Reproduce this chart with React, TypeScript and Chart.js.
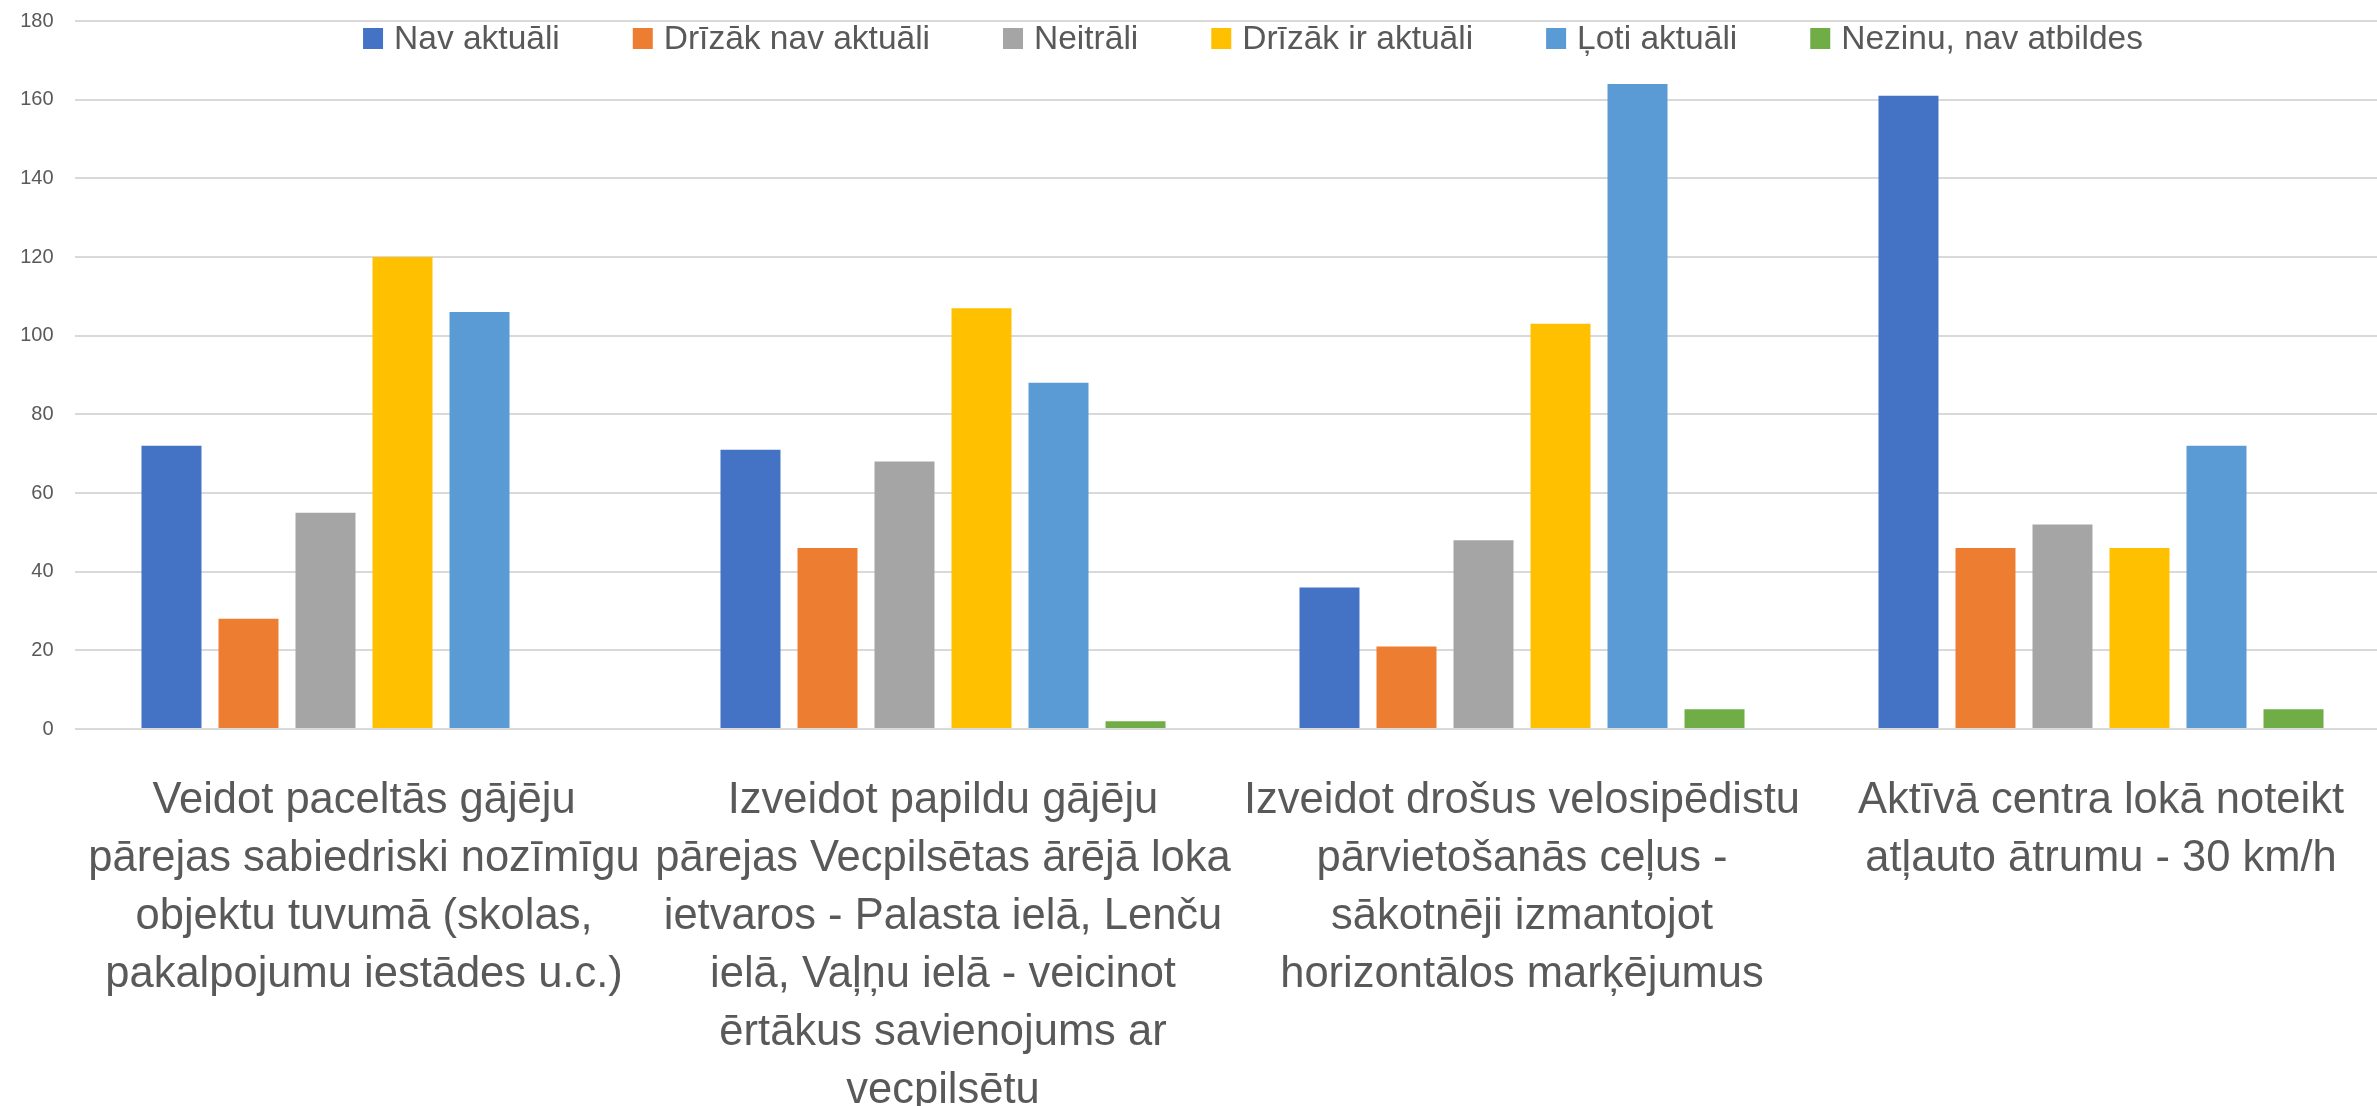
import React, { useEffect, useRef } from "react";
import { Chart, registerables } from "chart.js";

Chart.register(...registerables);

// ---- Data ----
const categories: string[][] = [
  ["Veidot paceltās gājēju", "pārejas sabiedriski nozīmīgu", "objektu tuvumā (skolas,", "pakalpojumu iestādes u.c.)"],
  ["Izveidot papildu gājēju", "pārejas Vecpilsētas ārējā loka", "ietvaros - Palasta ielā, Lenču", "ielā, Vaļņu ielā - veicinot", "ērtākus savienojums ar", "vecpilsētu"],
  ["Izveidot drošus velosipēdistu", "pārvietošanās ceļus -", "sākotnēji izmantojot", "horizontālos marķējumus"],
  ["Aktīvā centra lokā noteikt", "atļauto ātrumu - 30 km/h"],
];

const seriesNames = [
  "Nav aktuāli",
  "Drīzāk nav aktuāli",
  "Neitrāli",
  "Drīzāk ir aktuāli",
  "Ļoti aktuāli",
  "Nezinu, nav atbildes",
];

const navAktuali = [72, 71, 36, 161];
const drizakNavAktuali = [28, 46, 21, 46];
const neitrali = [55, 68, 48, 52];
const drizakIrAktuali = [120, 107, 103, 46];
const lotiAktuali = [106, 88, 164, 72];
const nezinu = [0, 2, 5, 5];

const seriesValues = [navAktuali, drizakNavAktuali, neitrali, drizakIrAktuali, lotiAktuali, nezinu];

const yAxisMin = 0;
const yAxisMax = 180;
const yAxisStep = 20;

// ---- Styles ----
const seriesColors = ["#4472C4", "#ED7D31", "#A5A5A5", "#FFC000", "#5B9BD5", "#70AD47"];
const FONT = "'Liberation Sans', Arial, sans-serif";
const TEXT_COLOR = "#595959";
const GRID_COLOR = "#D9D9D9";

const CANVAS_W = 2420;
const CANVAS_H = 1106;

const legendPlugin = {
  id: "customLegend",
  afterDraw(chart: any) {
    const ctx = chart.ctx as CanvasRenderingContext2D;
    const items = chart.data.datasets;
    ctx.save();
    ctx.font = `33.5px ${FONT}`;
    const boxW = 20;
    const boxH = 21;
    const gap = 11;
    const sep = 73;
    const widths = items.map((d: any) => ctx.measureText(d.label).width);
    const total =
      widths.reduce((a: number, w: number) => a + boxW + gap + w, 0) + sep * (items.length - 1);
    let x = 1253 - total / 2;
    const y = 38.5;
    ctx.textBaseline = "middle";
    ctx.textAlign = "left";
    items.forEach((d: any, i: number) => {
      ctx.fillStyle = d.backgroundColor;
      ctx.fillRect(x, y - boxH / 2, boxW, boxH);
      ctx.fillStyle = TEXT_COLOR;
      ctx.fillText(d.label, x + boxW + gap, y + 1);
      x += boxW + gap + widths[i] + sep;
    });
    ctx.restore();
  },
};

export default function App() {
  const canvasRef = useRef<HTMLCanvasElement | null>(null);

  useEffect(() => {
    if (!canvasRef.current) return;
    const chart = new Chart(canvasRef.current, {
      type: "bar",
      data: {
        labels: categories,
        datasets: seriesNames.map((name, i) => ({
          label: name,
          data: seriesValues[i],
          backgroundColor: seriesColors[i],
          borderWidth: 0,
          categoryPercentage: 0.798,
          barPercentage: 0.779,
        })),
      },
      options: {
        responsive: false,
        animation: false,
        devicePixelRatio: 1,
        layout: { padding: { top: 0, right: CANVAS_W - 2390.5, left: 0, bottom: 0 } },
        plugins: {
          legend: { display: false },
          tooltip: { enabled: false },
        },
        scales: {
          x: {
            grid: { display: false },
            border: { display: false },
            ticks: {
              color: TEXT_COLOR,
              font: { family: FONT, size: 43.5, lineHeight: "58px" },
              padding: 35,
              maxRotation: 0,
              minRotation: 0,
              autoSkip: false,
            },
            afterFit: (s: any) => {
              s.height = CANVAS_H - 729;
            },
          },
          y: {
            min: yAxisMin,
            max: yAxisMax,
            ticks: {
              stepSize: yAxisStep,
              color: TEXT_COLOR,
              font: { family: FONT, size: 20, lineHeight: "0px" },
              padding: 21,
              autoSkip: false,
            },
            grid: { color: GRID_COLOR, lineWidth: 2, drawTicks: false },
            border: { display: false },
            afterFit: (s: any) => {
              s.width = 74.5;
            },
          },
        },
      },
      plugins: [legendPlugin],
    });
    return () => chart.destroy();
  }, []);

  return (
    <div
      style={{
        position: "fixed",
        left: 0,
        top: 0,
        width: 2377,
        height: 1106,
        overflow: "hidden",
        background: "#ffffff",
      }}
    >
      <canvas ref={canvasRef} width={CANVAS_W} height={CANVAS_H} style={{ display: "block" }} />
    </div>
  );
}
